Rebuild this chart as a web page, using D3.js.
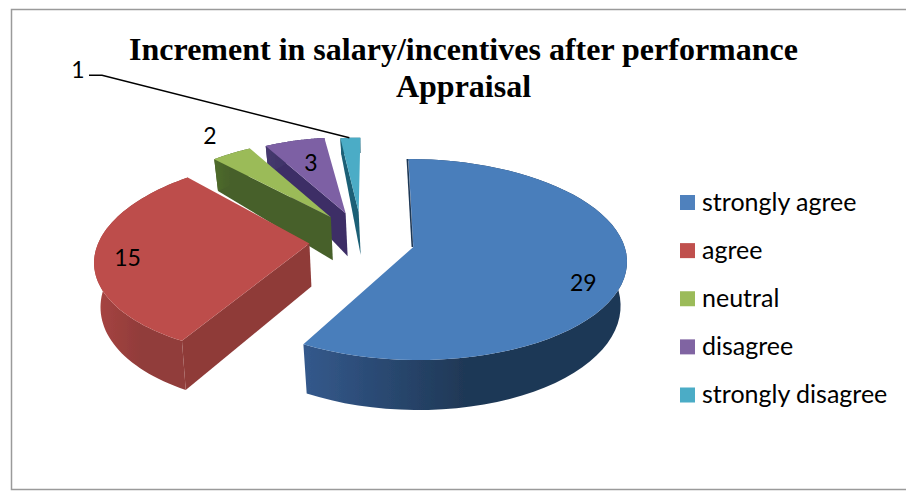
<!DOCTYPE html>
<html><head><meta charset="utf-8">
<script src="https://cdnjs.cloudflare.com/ajax/libs/d3/7.8.5/d3.min.js"></script>
<style>html,body{margin:0;padding:0;background:#fff}svg{display:block}</style></head>
<body><svg id="c" width="906" height="491"></svg>
<script>
const titleLines = ["Increment in salary/incentives after performance", "Appraisal"];
const categories = ["strongly agree", "agree", "neutral", "disagree", "strongly disagree"];
const values = [29, 15, 2, 3, 1];
const legendColors = ["#4f81bd", "#c0504d", "#9bbb59", "#8064a2", "#4bacc6"];
const topColors = ["#4a7ebb", "#bd4e4b", "#9bbb59", "#7d60a4", "#4bacc6"];
const cutColors = ["#1f3856", "#8f3b39", "#46602a", "#3d2f66", "#1c6076"];
const wallLeft = ["#34598c", "#a84542", "#4f6b2a", "#453a6e", "#1c6076"];
const wallRight = ["#1f3856", "#913c3a", "#46602a", "#3d2f66", "#1c6076"];
const radiusFactor = [1, 1, .87, .85, .83];
const sliceSkew = [5, -15, 0, 1, -2];
const labelNudge = [[2, 15], [-12, 3], [-29, -23], [13, 17], [-271, -71]];

const svg = d3.select("#c");
const W = 906, H = 491;
const rx = 213, ry = 100.5, a = -0.125;
const cx = 362, cy = 240, ex = 53, ey = 28;
const depth = d3.scaleLinear().domain([-1, -.88, -.73, 0, 1]).range([2, 8, 30, 43, 50]);

// frame: the right edge runs off the picture
svg.append("rect").attr("x", 11.5).attr("y", 9.5).attr("width", W + 20).attr("height", H - 11)
  .attr("fill", "#fff").attr("stroke", "#9a9a9a").attr("stroke-width", 1.5);

const defs = svg.append("defs");
const blur = defs.append("filter").attr("id", "soft");
blur.append("feGaussianBlur").attr("stdDeviation", .45);

const pie = d3.pie().value(d => d).sort(null).startAngle(0).endAngle(2 * Math.PI);
const arcs = pie(values);

function project(u, v, skew) {
  const k = Math.sqrt(1 - a * a) / (1 + a * v);
  return [rx * u * k + skew * v, ry * ((v + a) / (1 + a * v) - a)];
}
const pt = (t, r, skew) => project(r * Math.sin(t), -r * Math.cos(t), skew);

const g = svg.append("g").attr("filter", "url(#soft)");
const line = d3.line();
const order = [4, 3, 2, 1, 0];
const slices = arcs.map((d, i) => {
  const mid = (d.startAngle + d.endAngle) / 2;
  const ax = cx + ex * Math.sin(mid), ay = cy - ey * Math.cos(mid);
  return { d, i, mid, ax, ay };
});

order.forEach(i => {
  const s = slices[i], R = radiusFactor[i], sk = sliceSkew[i];
  const top = (t, r = R) => { const p = pt(t, r, sk); return [s.ax + p[0], s.ay + p[1]]; };
  const bottom = (t, r = R) => {
    const p = pt(t, r, sk), v = -r * Math.cos(t);
    return [s.ax + p[0] * .97 + 2 * (1 - r), s.ay + p[1] + depth(v)];
  };
  const angles = d3.range(0, 61).map(k => s.d.startAngle + (s.d.endAngle - s.d.startAngle) * k / 60);
  const apexBottom = bottom(0, 0);
  const xs = angles.map(t => top(t)[0]);

  const grad = defs.append("linearGradient").attr("id", "wall" + i)
    .attr("gradientUnits", "userSpaceOnUse")
    .attr("x1", d3.min(xs)).attr("x2", d3.max(xs)).attr("y1", 0).attr("y2", 0);
  grad.append("stop").attr("offset", 0).attr("stop-color", wallLeft[i]);
  grad.append("stop").attr("offset", .5).attr("stop-color", wallRight[i]);
  grad.append("stop").attr("offset", 1).attr("stop-color", wallRight[i]);

  // cut face at the start angle
  g.append("path")
    .attr("d", line([[s.ax, s.ay], top(s.d.startAngle), bottom(s.d.startAngle), apexBottom]) + "Z")
    .attr("fill", cutColors[i]);
  // outer wall
  const wallPts = angles.map(t => top(t)).concat(angles.slice().reverse().map(t => bottom(t)));
  g.append("path").attr("d", line(wallPts) + "Z").attr("fill", `url(#wall${i})`);
  // top face
  g.append("path")
    .attr("d", line([[s.ax, s.ay]].concat(angles.map(t => top(t)))) + "Z")
    .attr("fill", topColors[i]);
  if (i === 0) {
    const o = top(s.d.startAngle);
    g.append("line").attr("x1", s.ax - 1).attr("y1", s.ay).attr("x2", o[0] - 1).attr("y2", o[1])
      .attr("stroke", cutColors[0]).attr("stroke-width", 1.6);
  }
});

// title
svg.selectAll("text.title").data(titleLines).join("text").attr("class", "title")
  .attr("x", 463.5).attr("y", (d, i) => 59.5 + i * 37)
  .attr("text-anchor", "middle")
  .attr("font-family", "Liberation Serif").attr("font-weight", "bold")
  .attr("font-size", 32).attr("fill", "#000").text(d => d);

// data labels
const labelPos = slices.map(s => {
  const p = pt(s.mid, .8, 0);
  return [s.ax + p[0] + labelNudge[s.i][0], s.ay + p[1] + labelNudge[s.i][1]];
});
svg.selectAll("text.val").data(values).join("text").attr("class", "val")
  .attr("x", (d, i) => labelPos[i][0]).attr("y", (d, i) => labelPos[i][1])
  .attr("text-anchor", "middle").attr("dominant-baseline", "central")
  .attr("font-family", "Lato").attr("font-size", 23).attr("fill", "#000").text(d => d);

// leader for the smallest slice
const tealLabel = labelPos[4];
const tealOuter = (() => { const s = slices[4], p = pt(s.mid, radiusFactor[4], sliceSkew[4]); return [s.ax + p[0], s.ay + p[1]]; })();
svg.append("path").attr("fill", "none").attr("stroke", "#000").attr("stroke-width", 1.4)
  .attr("d", line([[tealLabel[0] + 11, tealLabel[1] + 6], [tealLabel[0] + 24, tealLabel[1] + 6], [tealOuter[0] - 1, tealOuter[1]]]));

// legend
const legendY = d3.scalePoint().domain(categories).range([202.5, 395]);
const lg = svg.selectAll("g.leg").data(categories).join("g").attr("class", "leg")
  .attr("transform", d => `translate(680,${legendY(d)})`);
lg.append("rect").attr("x", 0).attr("y", -7.5).attr("width", 15).attr("height", 15)
  .attr("fill", (d, i) => legendColors[i]);
lg.append("text").attr("x", 22).attr("y", 8)
  .attr("font-family", "Lato").attr("font-size", 25).attr("fill", "#000").text(d => d);
</script></body></html>
